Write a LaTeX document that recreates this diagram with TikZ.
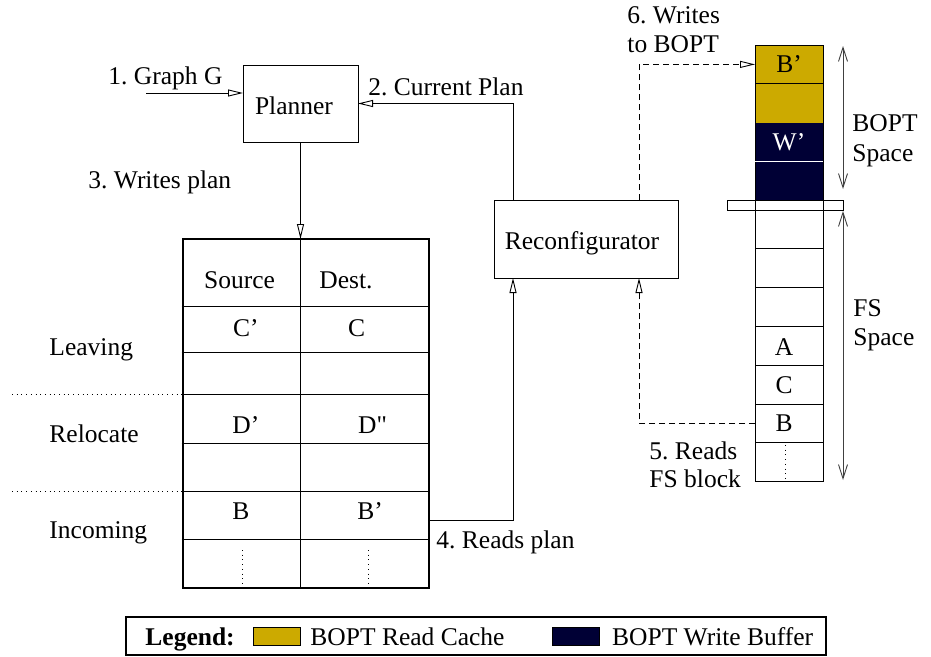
\documentclass[tikz,border=0pt]{standalone}
\usepackage{fontspec}
\setmainfont{Liberation Serif}[Ligatures=TeXOff]
\usetikzlibrary{arrows.meta,calc}
\definecolor{cachegold}{RGB}{204,170,0}
\definecolor{bufnavy}{RGB}{0,0,53}
\frenchspacing

\begin{document}
\begin{tikzpicture}[x=1pt,y=-1pt,
  font=\fontsize{25.5}{29}\selectfont,
  line width=0.9pt,
  lbl/.style={inner sep=0pt, anchor=base west},
  ctr/.style={inner sep=0pt, anchor=base},
  box/.style={draw, line width=0.9pt, inner sep=0pt, outer sep=0pt},
  cell/.style={minimum width=68pt, minimum height=38.8pt, inner sep=0pt, outer sep=0pt},
  opentip/.style={-{Triangle[open,length=15pt,width=7pt]}},
  dashline/.style={dash pattern=on 6pt off 4pt},
  dotline/.style={dash pattern=on 1pt off 3.7pt},
  spanarrow/.style={{Straight Barb[length=14pt,width=9pt]}-{Straight Barb[length=14pt,width=9pt]}, black!75},
  swatch/.style={draw, line width=0.6pt, minimum width=47pt, minimum height=18pt, inner sep=0pt}
]
\useasboundingbox (0,0) rectangle (931,656);

% ---------- Planner and Reconfigurator ----------
\node[box, minimum width=115pt, minimum height=77pt] (planner) at (300.5,103.5) {};
\node[ctr] (plannertxt) at (294,114) {Planner};
\node[box, minimum width=184pt, minimum height=78pt] (recon) at (586,239) {};
\node[ctr] (recontxt) at (582,249.3) {Reconfigurator};

% ---------- plan table ----------
\node[draw, line width=1.6pt, minimum width=246pt, minimum height=349pt, inner sep=0pt, outer sep=0pt] (plan) at (306,413.5) {};
\draw (300.3,239) -- (300.3,588);
\foreach \yy in {306,352,394,443,491,539}
  \draw (181.5,\yy) -- (429,\yy);
\draw[dotline] (12,394) -- (182,394);
\draw[dotline] (12,491) -- (182,491);
\draw[dotline] (242.3,550) -- (242.3,584);
\draw[dotline] (368.3,550) -- (368.3,584);

\node[ctr] (src) at (239.5,288.3) {Source};
\node[ctr] (dst) at (346,288.3) {Dest.};
\node[ctr] (c1) at (245.8,336) {C’};
\node[ctr] (c2) at (356.7,336) {C};
\node[ctr] (d1) at (245.8,433.3) {D’};
\node[ctr] (d2) at (372.5,433.3) {D"};
\node[ctr] (b1) at (240.8,519.3) {B};
\node[ctr] (b2) at (370,519.3) {B’};
\node[lbl] (leaving) at (49,355) {Leaving};
\node[lbl] (relocate) at (49,442.7) {Relocate};
\node[lbl] (incoming) at (49,538.3) {Incoming};

% ---------- BOPT space ----------
\node[cell, fill=cachegold] (ob1) at (789,64.4) {B’};
\node[cell, fill=cachegold] (ob2) at (789,103.2) {};
\node[cell, fill=bufnavy, text=white] (ob3) at (789,142) {W’};
\node[cell, fill=bufnavy] (ob4) at (789,180.8) {};
\draw (ob1.north west) rectangle (ob4.south east);
\draw (ob1.south west) -- (ob1.south east);
\draw[white] (ob3.south west) -- (ob3.south east);

% separator bar
\draw (727,200.2) rectangle (843,210);
\draw (755,200.2) -- (755,210) (823,200.2) -- (823,210);

% ---------- FS space ----------
\node[cell, draw] (fs1) at (789,229.4) {};
\node[cell, draw] (fs2) at (789,268.2) {};
\node[cell, draw] (fs3) at (789,307) {};
\node[cell, draw] (fs4) at (789,345.8) {};
\node[cell, draw] (fs5) at (789,384.6) {};
\node[cell, draw] (fs6) at (789,423.4) {};
\node[cell, draw] (fs7) at (789,462.2) {};
\node[ctr] (fsA) at (784,355) {A};
\node[ctr] (fsC) at (784,393.3) {C};
\node[ctr] (fsB) at (784,431.7) {B};
\draw[dotline] (785,445) -- (785,479);

% extent arrows
\coordinate (bopttop) at (843,46);
\coordinate (boptbot) at (843,189);
\coordinate (fstop) at (843,211);
\coordinate (fsbot) at (843,480);
\draw[spanarrow] (bopttop) -- (boptbot);
\draw[spanarrow] (fstop) -- (fsbot);
\node[lbl] (boptl1) at (852,131.7) {BOPT};
\node[lbl] (boptl2) at (852,161) {Space};
\node[lbl] (fsl1) at (853,316) {FS};
\node[lbl] (fsl2) at (853,345) {Space};

% ---------- connectors ----------
\coordinate (gin) at (146,93);
\draw[opentip] (gin) -- (gin -| planner.west);
\node[lbl] (l1) at (108,84) {1. Graph G};

\draw[opentip] ($(recon.north west)+(19,0)$) |- (planner.east);
\node[lbl] (l2) at (368,95) {2. Current Plan};

\draw[opentip] (planner.south) -- (planner.south |- plan.north);
\node[lbl] (l3) at (88,188) {3. Writes plan};

\coordinate (rpy) at (0,520);
\draw[opentip] (plan.east |- rpy) -| ($(recon.south west)+(19,0)$);
\node[lbl] (l4) at (436,548) {4. Reads plan};

\draw[dashline, opentip] (fs6.west) -| ($(recon.south west)+(145,0)$);
\node[lbl] (l5a) at (649,459.3) {5. Reads};
\node[lbl] (l5b) at (649,487.7) {FS block};

\draw[dashline, opentip] ($(recon.north west)+(145,0)$) |- (ob1.west);
\node[lbl] (l6a) at (627,23.3) {6. Writes};
\node[lbl] (l6b) at (627,52.3) {to BOPT};

% ---------- legend ----------
\node[draw, line width=1.6pt, minimum width=700pt, minimum height=38pt, inner sep=0pt] (legend) at (476,636) {};
\node[lbl, font=\fontsize{25.5}{29}\selectfont\bfseries] (legtitle) at (145,645) {Legend:};
\node[swatch, fill=cachegold] (swgold) at (276.4,635.9) {};
\node[lbl] (legread) at (310,645) {BOPT Read Cache};
\node[swatch, fill=bufnavy] (swnavy) at (575.9,635.9) {};
\node[lbl] (legwrite) at (611.7,645) {BOPT Write Buffer};
\end{tikzpicture}
\end{document}
